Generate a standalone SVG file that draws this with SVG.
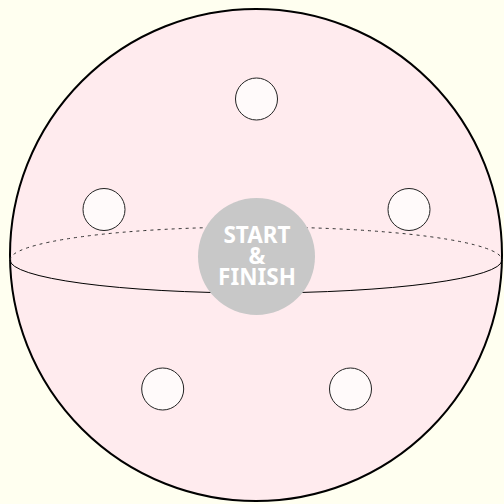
<svg xmlns="http://www.w3.org/2000/svg" width="504" height="504" viewBox="0 0 504 504">
<style>
.node{fill:#fffafa;stroke:#222;stroke-width:1}
.lbl{font-family:"Noto Sans","Open Sans",sans-serif;font-weight:bold;font-size:22.5px;fill:#ffffff;text-anchor:middle}
</style>
<rect x="0" y="0" width="504" height="504" fill="#fffff0"/>
<g id="sphere">
<circle cx="256" cy="255" r="246" fill="#ffebee" stroke="#000" stroke-width="2"/>
</g>
<g id="connectors">
<path d="M10,260 A246,33 0 0 1 502,260" fill="none" stroke="#333" stroke-width="1" stroke-dasharray="3,4"/>
<path d="M10,260 A246,33 0 0 0 502,260" fill="none" stroke="#000" stroke-width="1"/>
</g>
<g id="n1"><circle class="node" cx="256.5" cy="99" r="21"/></g>
<g id="n2"><circle class="node" cx="104" cy="209.5" r="21"/></g>
<g id="n3"><circle class="node" cx="409" cy="209.5" r="21"/></g>
<g id="n4"><circle class="node" cx="162.7" cy="389" r="21"/></g>
<g id="n5"><circle class="node" cx="350.5" cy="389" r="21"/></g>
<g id="start">
<circle cx="256.5" cy="256.5" r="58.5" fill="#c8c8c8"/>
<text class="lbl" x="257" y="243">START</text>
<text class="lbl" x="257" y="264">&amp;</text>
<text class="lbl" x="257" y="285">FINISH</text>
</g>
</svg>
